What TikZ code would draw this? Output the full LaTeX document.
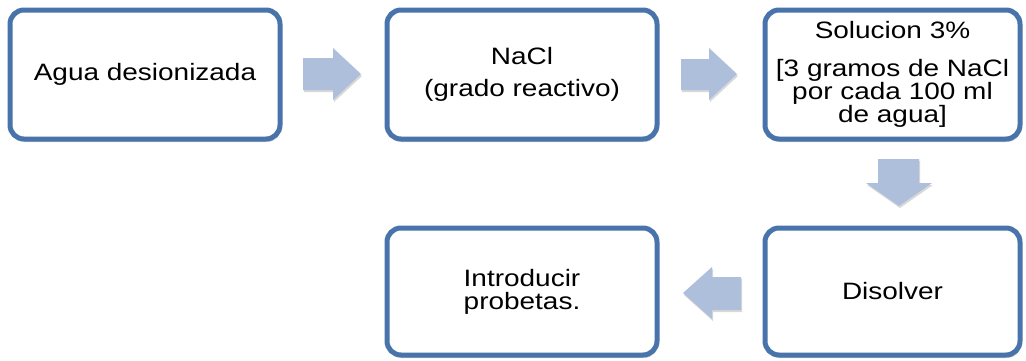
\documentclass[tikz,border=0pt]{standalone}
\usepackage{fontspec}
\setmainfont{Liberation Sans}[FakeStretch=1.18]
\usetikzlibrary{shadows}
\definecolor{boxblue}{HTML}{4874AB}
\definecolor{arrowblue}{HTML}{AEBFDB}
\begin{document}
\begin{tikzpicture}[x=1pt,y=-1pt,
  stepbox/.style={draw=boxblue, line width=5pt, rounded corners=14pt, fill=white,
    align=center, inner sep=0pt, font=\fontsize{23.7}{23}\selectfont,
    drop shadow={shadow xshift=1pt, shadow yshift=-3pt, opacity=0.3, fill=black!60}},
  blockarrow/.style={fill=arrowblue, draw=none,
    drop shadow={shadow xshift=1pt, shadow yshift=-2pt, opacity=0.25, fill=black!60}}]
\useasboundingbox (0,0) rectangle (1026,360);
\fill[white] (0,0) rectangle (1026,360);
\node[stepbox, minimum width=270pt, minimum height=129pt] (b1) at (145,74.5) {Agua desionizada};
\node[stepbox, minimum width=270pt, minimum height=129pt] (b2) at (522,74.5) {NaCl\\[9pt](grado reactivo)};
\node[stepbox, minimum width=255pt, minimum height=129pt] (b3) at (892.5,74.5) {Solucion 3\%\\[15pt]{[}3 gramos de NaCl\\por cada 100 ml\\de agua]};
\node[stepbox, minimum width=255pt, minimum height=127pt] (b4) at (892.5,291.5) {Disolver};
\node[stepbox, minimum width=270pt, minimum height=127pt] (b5) at (522,291.5) {Introducir\\probetas.};
% block arrows
\path[blockarrow] (303,58) -- (333,58) -- (333,48) -- (361,74) -- (333,100) -- (333,90) -- (303,90) -- cycle;
\path[blockarrow] (681,59) -- (709,59) -- (709,48) -- (737,74) -- (709,100) -- (709,90) -- (681,90) -- cycle;
\path[blockarrow] (878,159) -- (919,159) -- (919,183) -- (932,183) -- (899,206) -- (866,183) -- (878,183) -- cycle;
\path[blockarrow] (741,277) -- (712,277) -- (712,267) -- (683,293) -- (712,319) -- (712,310) -- (741,310) -- cycle;
\end{tikzpicture}
\end{document}
